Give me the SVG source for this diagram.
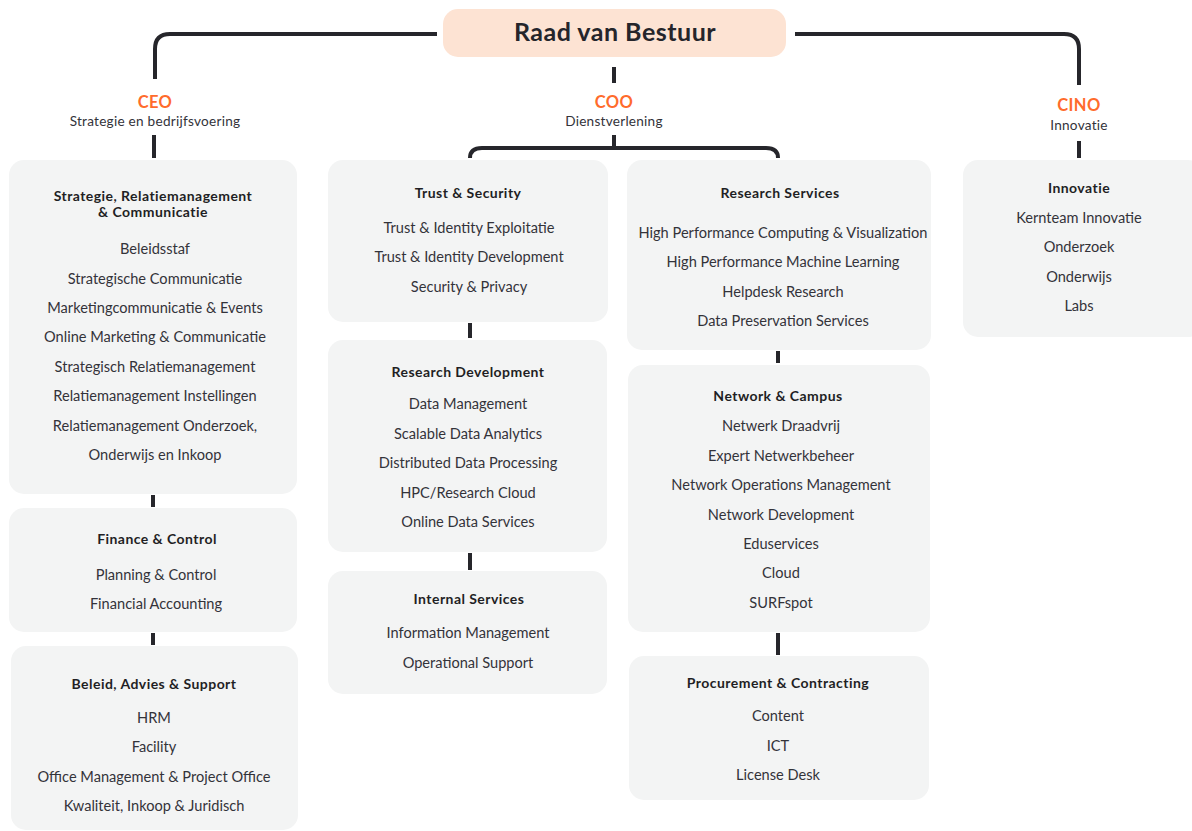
<svg xmlns="http://www.w3.org/2000/svg" width="1192" height="831" viewBox="0 0 1192 831">
<style>
.box{fill:#f3f4f4}
.t{font-family:Lato,"Liberation Sans",sans-serif;font-size:14px;font-weight:700;letter-spacing:0.45px;fill:#1f1f24;text-anchor:middle}
.i{font-family:Lato,"Liberation Sans",sans-serif;font-size:14.6px;fill:#33333a;text-anchor:middle}
.r{font-family:Lato,"Liberation Sans",sans-serif;font-size:25px;font-weight:700;letter-spacing:0.5px;fill:#25252b;text-anchor:middle}
.o{font-family:Lato,"Liberation Sans",sans-serif;font-size:16.5px;font-weight:700;letter-spacing:0.4px;fill:#ff6b2c;text-anchor:middle}
.s{font-family:Lato,"Liberation Sans",sans-serif;font-size:13.6px;letter-spacing:0.25px;fill:#33333a;text-anchor:middle}
.c{fill:none;stroke:#26262b;stroke-width:4}
</style>
<g id="connectors">
<path class="c" d="M437 34 H170 Q155 34 155 49 V79"/>
<path class="c" d="M795 34 H1064 Q1079 34 1079 49 V85"/>
<path class="c" d="M614 67 V83"/>
<path class="c" d="M154 135 V158"/>
<path class="c" d="M614 135 V148"/>
<path class="c" d="M470 158 Q470 148 482 148 H766 Q778 148 778 158"/>
<path class="c" d="M1079 141 V158"/>
<path class="c" d="M153 495 V507"/>
<path class="c" d="M153 633 V645"/>
<path class="c" d="M470 323 V338"/>
<path class="c" d="M470 553 V570"/>
<path class="c" d="M778 351 V363"/>
<path class="c" d="M778 633 V655"/>
</g>
<g id="raad">
<rect x="443" y="9" width="343" height="48" rx="15" fill="#fde3d3"/>
<text class="r" x="615" y="41">Raad van Bestuur</text>
</g>
<g id="ceo">
<text class="o" x="155" y="108">CEO</text>
<text class="s" x="155" y="126">Strategie en bedrijfsvoering</text>
</g>
<g id="coo">
<text class="o" x="614" y="108">COO</text>
<text class="s" x="614" y="126">Dienstverlening</text>
</g>
<g id="cino">
<text class="o" x="1079" y="111">CINO</text>
<text class="s" x="1079" y="130">Innovatie</text>
</g>
<g id="strategie">
<rect class="box" x="9" y="160" width="288" height="334" rx="15"/>
<text class="t" x="153" y="201">Strategie, Relatiemanagement</text>
<text class="t" x="153" y="217">&amp; Communicatie</text>
<text class="i" x="155" y="254">Beleidsstaf</text>
<text class="i" x="155" y="284">Strategische Communicatie</text>
<text class="i" x="155" y="313">Marketingcommunicatie &amp; Events</text>
<text class="i" x="155" y="342">Online Marketing &amp; Communicatie</text>
<text class="i" x="155" y="372">Strategisch Relatiemanagement</text>
<text class="i" x="155" y="401">Relatiemanagement Instellingen</text>
<text class="i" x="155" y="431">Relatiemanagement Onderzoek,</text>
<text class="i" x="155" y="460">Onderwijs en Inkoop</text>
</g>
<g id="finance">
<rect class="box" x="9" y="508" width="288" height="124" rx="15"/>
<text class="t" x="157" y="544">Finance &amp; Control</text>
<text class="i" x="156" y="580">Planning &amp; Control</text>
<text class="i" x="156" y="609">Financial Accounting</text>
</g>
<g id="beleid">
<rect class="box" x="11" y="646" width="287" height="184" rx="15"/>
<text class="t" x="154" y="689">Beleid, Advies &amp; Support</text>
<text class="i" x="154" y="723">HRM</text>
<text class="i" x="154" y="752">Facility</text>
<text class="i" x="154" y="782">Office Management &amp; Project Office</text>
<text class="i" x="154" y="811">Kwaliteit, Inkoop &amp; Juridisch</text>
</g>
<g id="trust">
<rect class="box" x="328" y="160" width="280" height="162" rx="15"/>
<text class="t" x="468" y="198">Trust &amp; Security</text>
<text class="i" x="469" y="233">Trust &amp; Identity Exploitatie</text>
<text class="i" x="469" y="262">Trust &amp; Identity Development</text>
<text class="i" x="469" y="292">Security &amp; Privacy</text>
</g>
<g id="researchdev">
<rect class="box" x="328" y="340" width="279" height="212" rx="15"/>
<text class="t" x="468" y="377">Research Development</text>
<text class="i" x="468" y="409">Data Management</text>
<text class="i" x="468" y="439">Scalable Data Analytics</text>
<text class="i" x="468" y="468">Distributed Data Processing</text>
<text class="i" x="468" y="498">HPC/Research Cloud</text>
<text class="i" x="468" y="527">Online Data Services</text>
</g>
<g id="internal">
<rect class="box" x="328" y="571" width="279" height="123" rx="15"/>
<text class="t" x="469" y="604">Internal Services</text>
<text class="i" x="468" y="638">Information Management</text>
<text class="i" x="468" y="668">Operational Support</text>
</g>
<g id="researchservices">
<rect class="box" x="627" y="160" width="304" height="190" rx="15"/>
<text class="t" x="780" y="198">Research Services</text>
<text class="i" x="783" y="238">High Performance Computing &amp; Visualization</text>
<text class="i" x="783" y="267">High Performance Machine Learning</text>
<text class="i" x="783" y="297">Helpdesk Research</text>
<text class="i" x="783" y="326">Data Preservation Services</text>
</g>
<g id="network">
<rect class="box" x="628" y="365" width="302" height="267" rx="15"/>
<text class="t" x="778" y="401">Network &amp; Campus</text>
<text class="i" x="781" y="431">Netwerk Draadvrij</text>
<text class="i" x="781" y="461">Expert Netwerkbeheer</text>
<text class="i" x="781" y="490">Network Operations Management</text>
<text class="i" x="781" y="520">Network Development</text>
<text class="i" x="781" y="549">Eduservices</text>
<text class="i" x="781" y="578">Cloud</text>
<text class="i" x="781" y="608">SURFspot</text>
</g>
<g id="procurement">
<rect class="box" x="629" y="656" width="300" height="144" rx="15"/>
<text class="t" x="778" y="688">Procurement &amp; Contracting</text>
<text class="i" x="778" y="721">Content</text>
<text class="i" x="778" y="751">ICT</text>
<text class="i" x="778" y="780">License Desk</text>
</g>
<g id="innovatie">
<rect class="box" x="963" y="160" width="240" height="177" rx="15"/>
<text class="t" x="1079" y="193">Innovatie</text>
<text class="i" x="1079" y="223">Kernteam Innovatie</text>
<text class="i" x="1079" y="252">Onderzoek</text>
<text class="i" x="1079" y="282">Onderwijs</text>
<text class="i" x="1079" y="311">Labs</text>
</g>
</svg>
